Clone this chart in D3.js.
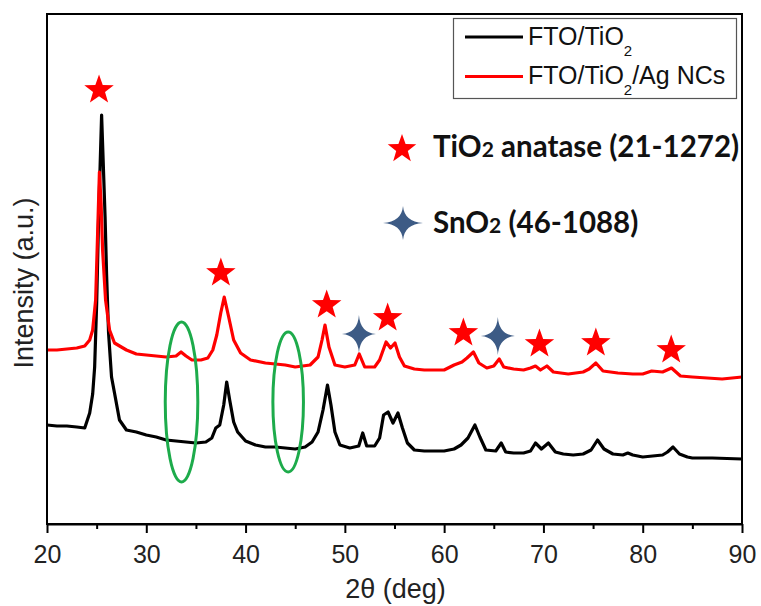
<!DOCTYPE html>
<html>
<head>
<meta charset="utf-8">
<script src="https://cdn.jsdelivr.net/npm/d3@7"></script>
<style>
  body { margin: 0; background: #fff; }
  svg { display: block; }
</style>
</head>
<body>
<script>
// 2theta (deg), intensity (a.u.)
const blackTheta = [20, 21, 22, 23, 23.8, 24.3, 24.6, 24.8, 25.0, 25.2, 25.5, 25.85, 26.0, 26.2, 26.5, 26.8, 27.3, 28, 29, 30, 31, 32, 33, 34, 35, 36, 36.6, 37.0, 37.4, 37.8, 38.1, 38.4, 38.8, 39.2, 40, 41, 42, 43, 44, 45, 46, 46.7, 47.3, 47.8, 48.25, 48.6, 49.0, 49.5, 50.5, 51.4, 51.8, 52.2, 53.0, 53.5, 53.9, 54.35, 54.85, 55.35, 55.8, 56.3, 57, 58, 60, 61, 61.7, 62.4, 63.1, 63.6, 64.2, 65.2, 65.75, 66.2, 67, 68, 68.7, 69.2, 69.8, 70.5, 71.2, 72, 73, 74, 74.8, 75.45, 76.1, 77, 78, 78.5, 79, 80, 81, 82, 82.5, 83.05, 83.7, 84.5, 85, 87, 90];
const blackInt = [99, 98, 98, 97, 96, 111, 130, 157, 220, 307, 409, 307, 250, 191, 147, 131, 104, 94, 92, 89, 87, 84, 83, 82, 81, 82, 86, 96, 99, 119, 142, 124, 102, 92, 83, 79, 77, 77, 76, 75, 77, 82, 92, 114, 139, 119, 92, 79, 76, 78, 91, 78, 78, 86, 109, 112, 101, 111, 96, 81, 74, 73, 73, 75, 79, 86, 99, 87, 74, 73, 81, 72, 71, 71, 73, 81, 75, 81, 72, 70, 69, 70, 74, 84, 75, 70, 69, 71, 69, 67, 68, 69, 72, 77, 70, 67, 66, 66, 65];

const redTheta = [20, 21, 22, 23, 23.8, 24.3, 24.6, 24.9, 25.1, 25.28, 25.45, 25.6, 25.9, 26.3, 26.8, 28, 29, 30, 31, 32, 33, 33.5, 34, 34.6, 35.5, 36.2, 36.7, 37.1, 37.5, 37.85, 38.3, 38.8, 39.5, 40.5, 42, 44, 45, 46.5, 47.3, 47.7, 48.0, 48.4, 49.0, 50, 51, 51.45, 52, 53, 53.5, 54.15, 54.6, 55.05, 55.5, 56, 57, 58, 60, 61, 61.8, 62.3, 62.95, 63.5, 64.3, 65.0, 65.55, 66, 67, 68, 68.7, 69.2, 69.7, 70.35, 71, 72.5, 74, 74.6, 75.28, 76, 77.5, 79, 80, 80.9, 82, 82.9, 83.8, 85, 88, 90];
const redInt = [174, 174, 175, 176, 178, 184, 194, 224, 291, 352, 320, 274, 224, 194, 181, 174, 170, 169, 168, 167, 168, 172, 168, 164, 164, 166, 174, 189, 211, 227, 207, 184, 171, 164, 161, 159, 157, 159, 167, 184, 199, 177, 159, 157, 159, 170, 157, 157, 164, 182, 176, 181, 167, 158, 155, 154, 154, 159, 162, 166, 172, 161, 156, 158, 165, 157, 155, 154, 156, 158, 154, 158, 152, 150, 152, 155, 161, 153, 151, 150, 150, 153, 152, 156, 148, 147, 145, 147];

const seriesNames = ["FTO/TiO2", "FTO/TiO2/Ag NCs"];

// reflection markers
const anataseTheta = [25.24, 37.51, 48.17, 54.31, 61.94, 69.60, 75.28, 82.87];
const anataseInt = [435, 252, 220, 207, 192, 181, 182, 175];
const sno2Theta = [51.42, 65.41];
const sno2Int = [190, 188];

// highlighted regions (ellipses)
const ringTheta = [33.55, 44.29];
const ringInt = [122, 122];
const ringHalfWidth = [1.64, 1.54];
const ringHalfHeight = [80, 70];

const xTicks = [20, 30, 40, 50, 60, 70, 80, 90];
const xMinor = [25, 35, 45, 55, 65, 75, 85];

const w = 761, h = 606;
const m = { left: 47, right: 19, top: 14, bottom: 82 };

const svg = d3.select("body").append("svg")
  .attr("width", w).attr("height", h);

const x = d3.scaleLinear().domain([20, 90]).range([m.left, w - m.right]);
const y = d3.scaleLinear().domain([0, 510]).range([h - m.bottom, m.top]);

const line = d3.line().x(d => x(d[0])).y(d => y(d[1]));

const blackData = blackTheta.map((t, i) => [t, blackInt[i]]);
const redData = redTheta.map((t, i) => [t, redInt[i]]);

svg.append("path").datum(blackData)
  .attr("d", line).attr("fill", "none")
  .attr("stroke", "#000").attr("stroke-width", 3.2).attr("stroke-linejoin", "round");

svg.append("path").datum(redData)
  .attr("d", line).attr("fill", "none")
  .attr("stroke", "#ff0000").attr("stroke-width", 3.2).attr("stroke-linejoin", "round");

// green ellipses
svg.append("g").selectAll("ellipse")
  .data(ringTheta)
  .enter().append("ellipse")
  .attr("cx", d => x(d))
  .attr("cy", (d, i) => y(ringInt[i]))
  .attr("rx", (d, i) => x(d + ringHalfWidth[i]) - x(d))
  .attr("ry", (d, i) => y(0) - y(ringHalfHeight[i]))
  .attr("fill", "none")
  .attr("stroke", "#1dab4b")
  .attr("stroke-width", 3);

// star shapes
const star5 = (R, r) => {
  let p = [];
  for (let k = 0; k < 10; k++) {
    const a = -Math.PI / 2 + k * Math.PI / 5;
    const rr = k % 2 ? r : R;
    p.push([rr * Math.cos(a), rr * Math.sin(a)]);
  }
  return "M" + p.map(q => q.join(",")).join("L") + "Z";
};
const star4 = (a, b) => {
  const c = 0.07;
  return `M0,${-b}Q${a * c},${-b * c} ${a},0Q${a * c},${b * c} 0,${b}` +
    `Q${-a * c},${b * c} ${-a},0Q${-a * c},${-b * c} 0,${-b}Z`;
};

svg.append("g").selectAll("path")
  .data(anataseTheta)
  .enter().append("path")
  .attr("d", star5(15.5, 6.3))
  .attr("transform", (d, i) => `translate(${x(d)},${y(anataseInt[i]) + 1})`)
  .attr("fill", "#ff0000");

svg.append("g").selectAll("path")
  .data(sno2Theta)
  .enter().append("path")
  .attr("d", star4(17, 19))
  .attr("transform", (d, i) => `translate(${x(d)},${y(sno2Int[i])})`)
  .attr("fill", "#3d5b85");

// frame
svg.append("rect")
  .attr("x", m.left).attr("y", m.top)
  .attr("width", w - m.left - m.right).attr("height", h - m.top - m.bottom)
  .attr("fill", "none").attr("stroke", "#000").attr("stroke-width", 2);

// x axis
const xAxis = svg.append("g")
  .attr("transform", `translate(0,${h - m.bottom})`)
  .call(d3.axisBottom(x).tickValues(xTicks).tickSize(9).tickPadding(12).tickSizeOuter(0));
xAxis.select(".domain").attr("stroke-width", 2);
xAxis.selectAll(".tick line").attr("stroke-width", 2);
xAxis.selectAll("text")
  .attr("font-family", "Liberation Sans, Arial, sans-serif")
  .attr("font-size", 25).attr("fill", "#222");

svg.append("g")
  .attr("transform", `translate(0,${h - m.bottom})`)
  .call(d3.axisBottom(x).tickValues(xMinor).tickSize(5).tickFormat(""))
  .call(g => g.select(".domain").remove())
  .selectAll("line").attr("stroke-width", 2);

// axis titles
svg.append("text")
  .attr("x", (m.left + w - m.right) / 2 + 1).attr("y", 598)
  .attr("text-anchor", "middle")
  .attr("font-family", "Liberation Sans, Arial, sans-serif")
  .attr("font-size", 27).attr("fill", "#222")
  .text("2θ (deg)");

svg.append("text")
  .attr("transform", `translate(33,${(m.top + h - m.bottom) / 2 + 14}) rotate(-90)`)
  .attr("text-anchor", "middle")
  .attr("font-family", "Liberation Sans, Arial, sans-serif")
  .attr("font-size", 27).attr("fill", "#222")
  .text("Intensity (a.u.)");

// legend
const legend = svg.append("g").attr("id", "legend");
legend.append("rect")
  .attr("x", 453.5).attr("y", 18.5).attr("width", 283).attr("height", 80)
  .attr("fill", "#fff").attr("stroke", "#555").attr("stroke-width", 1.2);

const legendColors = ["#000", "#ff0000"];
seriesNames.forEach((name, i) => {
  const ly = 37 + i * 39.5;
  legend.append("line")
    .attr("x1", 465).attr("x2", 523).attr("y1", ly).attr("y2", ly)
    .attr("stroke", legendColors[i]).attr("stroke-width", 3);
  const t = legend.append("text")
    .attr("x", 528).attr("y", ly + 7.5)
    .attr("font-family", "Liberation Sans, Arial, sans-serif")
    .attr("font-size", 25).attr("fill", "#111");
  const parts = name.split("2");
  t.append("tspan").text(parts[0]);
  t.append("tspan").attr("font-size", 15).attr("dy", 11).text("2");
  if (parts[1]) t.append("tspan").attr("dy", -11).text(parts[1]);
});

// phase key
const key = svg.append("g");
key.append("path").attr("d", star5(15, 6.1))
  .attr("transform", "translate(402,149)").attr("fill", "#ff0000");
key.append("path").attr("d", star4(20, 17))
  .attr("transform", "translate(403,223)").attr("fill", "#3d5b85");

const keyText = (ty, a, b) => {
  const t = key.append("text")
    .attr("x", 433).attr("y", ty)
    .attr("font-family", "Lato, sans-serif")
    .attr("font-weight", "bold")
    .attr("font-size", 29.5).attr("fill", "#111");
  t.append("tspan").text(a);
  t.append("tspan").attr("font-size", 21).text("2");
  t.append("tspan").text(b);
};
keyText(157, "TiO", " anatase (21-1272)");
keyText(233, "SnO", " (46-1088)");
</script>
</body>
</html>
